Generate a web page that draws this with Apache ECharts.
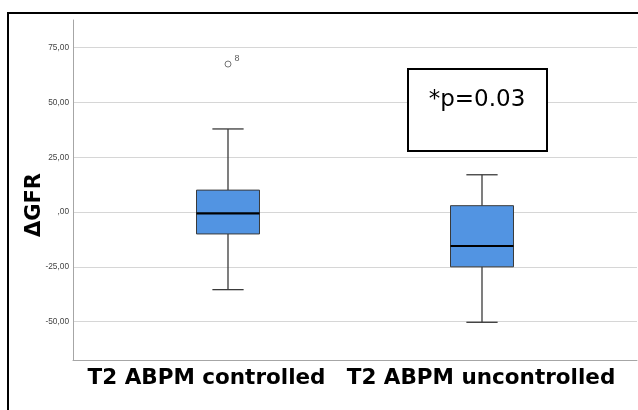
<!DOCTYPE html>
<html>
<head>
<meta charset="utf-8">
<script src="https://cdn.jsdelivr.net/npm/echarts@6/dist/echarts.min.js"></script>
<style>html,body{margin:0;padding:0;background:#fff;}#main{width:638px;height:410px;}</style>
</head>
<body>
<div id="main"></div>
<script>
const categories = ['T2 ABPM controlled', 'T2 ABPM uncontrolled'];
const lowWhisker = [-35.4, -50.3];
const q1 = [-10.0, -25.0];
const median = [-0.6, -15.5];
const q3 = [10.0, 2.9];
const highWhisker = [37.9, 17.0];
const outlierValues = [[0, 67.5]];
const outlierLabels = ['8'];
const yTicks = [-50, -25, 0, 25, 50, 75];
const yMin = -67.5, yMax = 87.6;
const pText = '*p=0.03';

const boxData = categories.map((c, i) => [i, lowWhisker[i], q1[i], median[i], q3[i], highWhisker[i]]);

function fmt(v) {
  if (v === 0) return ',00';
  return String(v) + ',00';
}

const chart = echarts.init(document.getElementById('main'));
chart.setOption({
  animation: false,
  backgroundColor: '#fff',
  grid: [
    { left: 73, right: 1, top: 20, height: 340 },
    { left: 101, right: 29, top: 20, height: 340 }
  ],
  xAxis: [
    { gridIndex: 0, type: 'value', min: 0, max: 1,
      axisLine: { show: true, onZero: false, lineStyle: { color: '#a6a6a6', width: 1 } },
      axisTick: { show: false }, axisLabel: { show: false }, splitLine: { show: false } },
    { gridIndex: 1, type: 'category', data: categories,
      axisLine: { show: false }, axisTick: { show: false }, splitLine: { show: false },
      axisLabel: {
        margin: 7,
        color: '#000',
        fontFamily: 'DejaVu Sans',
        fontWeight: 'bold',
        fontSize: 21.5,
        interval: 0,
        formatter: (v, i) => i === 0 ? '{l|' + v + '}' : '{r|' + v + '}',
        rich: {
          l: { fontFamily: 'DejaVu Sans', fontWeight: 'bold', fontSize: 21.5, color: '#000', padding: [0, 43, 0, 0] },
          r: { fontFamily: 'DejaVu Sans', fontWeight: 'bold', fontSize: 21.5, color: '#000', padding: [0, 2, 0, 0] }
        }
      } }
  ],
  yAxis: [
    { gridIndex: 0, type: 'value', min: yMin, max: yMax,
      name: 'ΔGFR', nameLocation: 'middle', nameGap: 28, nameMoveOverlap: false,
      nameTextStyle: { fontFamily: 'DejaVu Sans', fontWeight: 'bold', fontSize: 21, color: '#000', padding: [0, 30, 0, 0] },
      axisLine: { show: true, onZero: false, lineStyle: { color: '#a6a6a6', width: 1 } },
      axisTick: { show: false, customValues: yTicks },
      axisLabel: { customValues: yTicks, margin: 4, color: '#444', fontFamily: 'Liberation Sans', fontSize: 8.3, formatter: fmt },
      splitLine: { show: true, lineStyle: { color: '#d6d6d6', width: 1 } } },
    { gridIndex: 1, type: 'value', min: yMin, max: yMax, show: false,
      splitLine: { show: false } }
  ],
  series: [
    {
      type: 'custom',
      xAxisIndex: 1, yAxisIndex: 1,
      data: boxData,
      encode: { x: 0, y: [1, 2, 3, 4, 5] },
      renderItem: function (params, api) {
        const i = api.value(0);
        const band = api.size([1, 0])[0];
        const bw = band * 0.248;
        const cw = band * 0.123;
        const pLow = api.coord([i, api.value(1)]);
        const pQ1 = api.coord([i, api.value(2)]);
        const pMed = api.coord([i, api.value(3)]);
        const pQ3 = api.coord([i, api.value(4)]);
        const pHigh = api.coord([i, api.value(5)]);
        const x = pLow[0];
        const lineStyle = { stroke: '#3a3a3a', lineWidth: 1.3 };
        return {
          type: 'group',
          children: [
            { type: 'line', shape: { x1: x, y1: pLow[1], x2: x, y2: pQ1[1] }, style: lineStyle },
            { type: 'line', shape: { x1: x, y1: pQ3[1], x2: x, y2: pHigh[1] }, style: lineStyle },
            { type: 'line', shape: { x1: x - cw / 2, y1: pLow[1], x2: x + cw / 2, y2: pLow[1] }, style: lineStyle },
            { type: 'line', shape: { x1: x - cw / 2, y1: pHigh[1], x2: x + cw / 2, y2: pHigh[1] }, style: lineStyle },
            { type: 'rect', shape: { x: x - bw / 2, y: pQ3[1], width: bw, height: pQ1[1] - pQ3[1] },
              style: { fill: '#5294e2', stroke: '#3a3a3a', lineWidth: 1 } },
            { type: 'line', shape: { x1: x - bw / 2, y1: pMed[1], x2: x + bw / 2, y2: pMed[1] },
              style: { stroke: '#000', lineWidth: 2.2 } }
          ]
        };
      }
    },
    {
      type: 'scatter',
      xAxisIndex: 1, yAxisIndex: 1,
      data: outlierValues,
      symbol: 'circle',
      symbolSize: 6,
      itemStyle: { color: '#fff', borderColor: '#555', borderWidth: 1 },
      label: {
        show: true,
        formatter: (p) => outlierLabels[p.dataIndex],
        position: 'right',
        offset: [-2, -6],
        fontFamily: 'Liberation Sans',
        fontSize: 9,
        color: '#333'
      }
    }
  ],
  graphic: [
    { type: 'polyline', shape: { points: [[8, 410], [8, 13], [640, 13]] },
      style: { stroke: '#000', lineWidth: 2, fill: null }, z: 100 },
    { type: 'rect', shape: { x: 408, y: 69, width: 139, height: 82 },
      style: { fill: '#fff', stroke: '#000', lineWidth: 2 }, z: 100 },
    { type: 'text', x: 477, y: 100,
      style: { text: pText, fontFamily: 'DejaVu Sans', fontSize: 23, fill: '#000', align: 'center', verticalAlign: 'middle' }, z: 101 }
  ]
});
</script>
</body>
</html>
